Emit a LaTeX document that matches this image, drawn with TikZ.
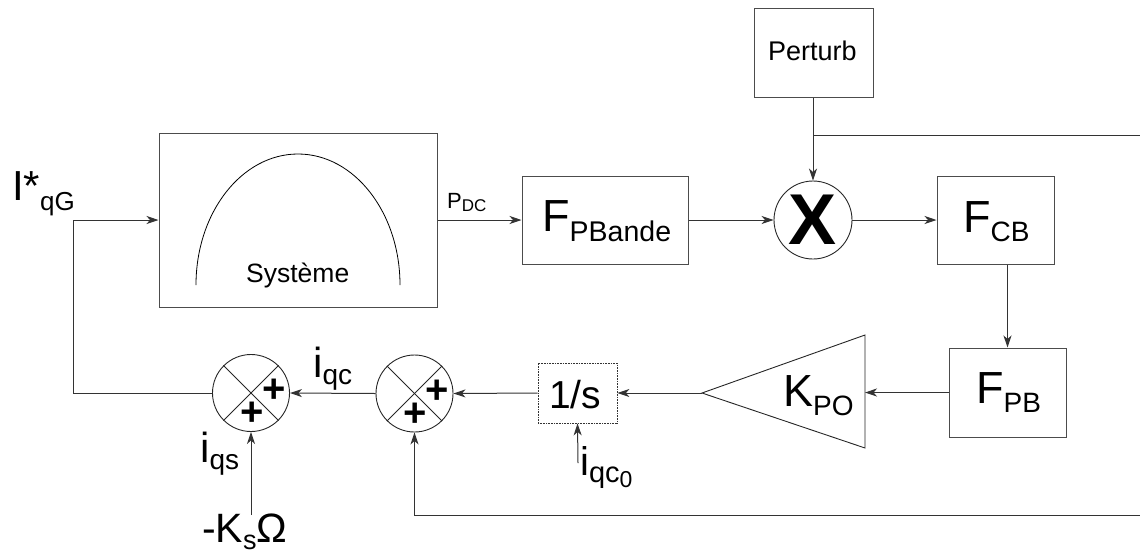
\documentclass[tikz,border=0pt]{standalone}
\usepackage{fontspec}
\setmainfont{Liberation Sans}
\usetikzlibrary{arrows.meta}
\newcommand{\fs}[1]{\fontsize{#1}{#1}\selectfont}
\newcommand{\dsub}[3]{\raisebox{-#2pt}{\fs{#1}#3}}
\begin{document}
\begin{tikzpicture}[x=1pt,y=-1pt,
  box/.style={draw=black!70, line width=1pt, rectangle, inner sep=0pt},
  conn/.style={line width=1pt, draw=black!80},
  arr/.style={conn, -{Stealth[length=12pt,width=8pt,inset=3.5pt]}},
  sumc/.style={circle, draw=black!85, line width=0.9pt, minimum size=77pt, inner sep=0pt},
  txt/.style={inner sep=0pt, anchor=base west, text=black},
  plus/.style={inner sep=0pt, font=\fs{40}\bfseries}]
\useasboundingbox (0,0) rectangle (1140,555);

% blocks
\node[box, minimum width=278pt, minimum height=174pt] (sys) at (298,220) {};
\draw[line width=0.8pt] (196,285) arc[start angle=180, end angle=360, x radius=102, y radius=131];
\node[txt] (systxt) at (246,282) {\fs{26.5}Système};

\node[box, minimum width=166pt, minimum height=88pt] (fpbd) at (605,220) {};
\node[txt] (fpbdtxt) at (542,231) {\fs{45}F\dsub{28.5}{10}{PBande}};

\node[box, minimum width=119pt, minimum height=89pt] (pert) at (813.5,52.5) {};
\node[txt] (perttxt) at (768,60) {\fs{27}Perturb};

\node[circle, draw=black!85, line width=0.9pt, minimum size=78pt, inner sep=0pt,
      font=\fs{72}\bfseries] (mul) at (813,220) {X};

\node[box, minimum width=117pt, minimum height=88pt] (fcb) at (995.5,220) {};
\node[txt] (fcbtxt) at (963,232) {\fs{45}F\dsub{28}{9}{CB}};

\node[box, minimum width=117pt, minimum height=89pt] (fpb) at (1007.5,392.5) {};
\node[txt] (fpbtxt) at (976,403) {\fs{45}F\dsub{28}{9}{PB}};

\coordinate (kt) at (865,335);
\coordinate (kb) at (865,448);
\coordinate (ka) at (702,393);
\draw[line width=0.9pt, black!85] (ka) -- (kt) -- (kb) -- cycle;
\node[txt] (ktxt) at (783,406) {\fs{45}K\dsub{28}{9}{PO}};

\node[box, draw=black!80, line width=0.8pt, dash pattern=on 1pt off 0.6pt,
      minimum width=79pt, minimum height=60pt] (int) at (577.5,393) {};
\node[txt] (inttxt) at (549,408) {\fs{39}1/s};

\node[sumc] (s2) at (414.5,393.5) {};
\node[sumc] (s1) at (251,393) {};
\foreach \s in {s1,s2}{
  \draw[line width=0.8pt, black!85] (\s.north west) -- (\s.south east);
  \draw[line width=0.8pt, black!85] (\s.south west) -- (\s.north east);
  \node[plus] at ([xshift=23pt,yshift=2pt]\s.center) {+};
  \node[plus] at ([xshift=1pt,yshift=-21pt]\s.center) {+};
}

% labels
\node[txt] (lIq) at (12,200) {\fs{42}I*\dsub{26}{10}{qG}};
\node[txt] (lpdc) at (447,208) {\fs{22}P\dsub{17}{3}{DC}};
\node[txt] (liqc) at (313,377) {\fs{42}i\dsub{28}{7}{qc}};
\node[txt] (liqs) at (200,462) {\fs{42}i\dsub{28}{7}{qs}};
\node[txt] (lks) at (202,542) {\fs{41}-K\dsub{27}{7}{s}Ω};
\node[txt] (liq0) at (580,475) {\fs{40}i\dsub{29}{7}{qc\dsub{23}{5}{0}}};

% connectors
\coordinate (br) at (813,135);
\coordinate (rt) at (1140,135);
\coordinate (rb) at (1140,515);
\coordinate (lc) at (73,220);
\coordinate (ksin) at (251,515);
\coordinate (iq0) at (578,463);

\draw[arr] (sys.east) -- (fpbd.west);
\draw[arr] (fpbd.east) -- (mul.west);
\draw[arr] (mul.north |- pert.south) -- (mul.north);
\draw[conn] (br) -- (rt);
\draw[arr] (mul.east) -- (fcb.west);
\draw[arr] (fpb.north |- fcb.south) -- (fpb.north);
\draw[arr] (fpb.west) -- (fpb.west -| kt);
\draw[arr] (ka) -- (int.east);
\draw[arr] (int.west) -- (s2.east);
\draw[arr] (s2.west) -- (s1.east);
\draw[conn] (s1.west) -| (lc);
\draw[arr] (lc) -- (sys.west);
\draw[arr] (ksin) -- (s1.south);
\draw[arr] (rb) -| (s2.south);
\draw[arr] (iq0) -- (int.south);
\end{tikzpicture}
\end{document}
